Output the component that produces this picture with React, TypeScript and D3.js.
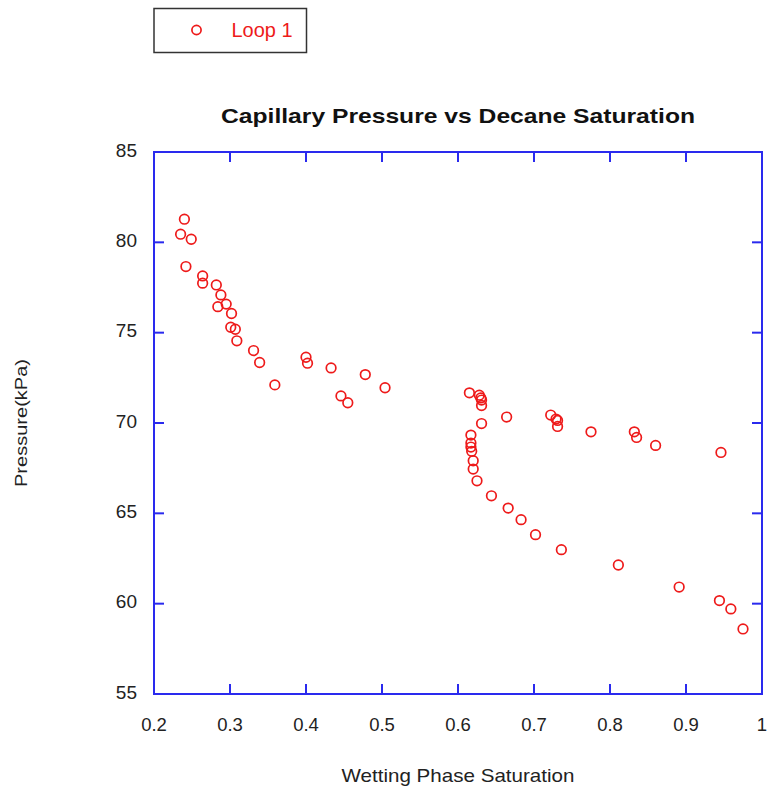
import React from "react";
import * as d3 from "d3";

// Wetting phase saturation (x) and capillary pressure in kPa (y), one loop
const saturation: number[] = [
  0.240, 0.235, 0.249, 0.242, 0.264, 0.264, 0.282, 0.288, 0.284, 0.295,
  0.302, 0.301, 0.307, 0.309, 0.331, 0.339, 0.359, 0.400, 0.402, 0.433,
  0.478, 0.504, 0.446, 0.455, 0.615, 0.628, 0.630, 0.631, 0.631, 0.631,
  0.664, 0.722, 0.729, 0.731, 0.731, 0.775, 0.832, 0.835, 0.860, 0.946,
  0.617, 0.617, 0.617, 0.618, 0.620, 0.620, 0.625, 0.644, 0.666, 0.683,
  0.702, 0.736, 0.811, 0.891, 0.944, 0.959, 0.975,
];
const pressure: number[] = [
  81.28, 80.45, 80.17, 78.66, 78.14, 77.74, 77.64, 77.09, 76.44, 76.58,
  76.06, 75.30, 75.19, 74.55, 74.01, 73.35, 72.11, 73.64, 73.31, 73.05,
  72.68, 71.95, 71.50, 71.12, 71.67, 71.54, 71.39, 71.27, 70.97, 69.97,
  70.33, 70.44, 70.22, 70.14, 69.81, 69.51, 69.51, 69.20, 68.76, 68.37,
  69.33, 68.89, 68.67, 68.43, 67.91, 67.45, 66.80, 65.97, 65.29, 64.65,
  63.82, 62.99, 62.14, 60.92, 60.17, 59.71, 58.60,
];

const xTicks: number[] = [0.2, 0.3, 0.4, 0.5, 0.6, 0.7, 0.8, 0.9, 1];
const yTicks: number[] = [55, 60, 65, 70, 75, 80, 85];

const seriesName = "Loop 1";
const title = "Capillary Pressure vs Decane Saturation";
const xLabel = "Wetting Phase Saturation";
const yLabel = "Pressure(kPa)";

const W = 767;
const H = 789;
const plot = { left: 154, right: 762, top: 152, bottom: 694 };
const AXIS = "#2a2aee";
const MARK = "#ee1a1a";
const FONT = "'Liberation Sans', Arial, sans-serif";
const TICK = 10;

export default function App() {
  const x = d3.scaleLinear().domain([0.2, 1]).range([plot.left, plot.right]);
  const y = d3.scaleLinear().domain([55, 85]).range([plot.bottom, plot.top]);
  const fmtX = (v: number) => (v === 1 ? "1" : d3.format(".1f")(v));

  return (
    <svg
      width={W}
      height={H}
      style={{ position: "fixed", left: 0, top: 0, background: "#fff" }}
    >
      <rect width={W} height={H} fill="#fff" />

      {/* legend */}
      <rect x={154} y={8.5} width={152.5} height={44} fill="#fff" stroke="#333" strokeWidth={1.5} />
      <circle cx={196.5} cy={30} r={4.6} fill="none" stroke={MARK} strokeWidth={1.7} />
      <text x={231.5} y={37} fontFamily={FONT} fontSize={19.5} fill={MARK} textLength={61} lengthAdjust="spacingAndGlyphs">
        {seriesName}
      </text>

      {/* title */}
      <text
        x={(plot.left + plot.right) / 2}
        y={123}
        textAnchor="middle"
        fontFamily={FONT}
        fontWeight="bold"
        fontSize={21}
        fill="#111"
        textLength={474}
        lengthAdjust="spacingAndGlyphs"
      >
        {title}
      </text>

      {/* frame and inward ticks on all sides */}
      <rect
        x={plot.left}
        y={plot.top}
        width={plot.right - plot.left}
        height={plot.bottom - plot.top}
        fill="none"
        stroke={AXIS}
        strokeWidth={2}
      />
      {xTicks.map((t) => (
        <g key={"xt" + t}>
          <line x1={x(t)} x2={x(t)} y1={plot.bottom} y2={plot.bottom - TICK} stroke={AXIS} strokeWidth={2} />
          <line x1={x(t)} x2={x(t)} y1={plot.top} y2={plot.top + TICK} stroke={AXIS} strokeWidth={2} />
          <text
            x={x(t)}
            y={730.5}
            textAnchor="middle"
            fontFamily={FONT}
            fontSize={18.5}
            fill="#222"
          >
            {fmtX(t)}
          </text>
        </g>
      ))}
      {yTicks.map((t) => (
        <g key={"yt" + t}>
          <line x1={plot.left} x2={plot.left + TICK} y1={y(t)} y2={y(t)} stroke={AXIS} strokeWidth={2} />
          <line x1={plot.right} x2={plot.right - TICK} y1={y(t)} y2={y(t)} stroke={AXIS} strokeWidth={2} />
          <text
            x={137}
            y={y(t) + 4.5}
            textAnchor="end"
            fontFamily={FONT}
            fontSize={19}
            fill="#222"
          >
            {t}
          </text>
        </g>
      ))}

      {/* axis titles */}
      <text
        x={(plot.left + plot.right) / 2}
        y={782}
        textAnchor="middle"
        fontFamily={FONT}
        fontSize={19}
        fill="#222"
        textLength={233}
        lengthAdjust="spacingAndGlyphs"
      >
        {xLabel}
      </text>
      <text
        transform={`translate(27,${(plot.top + plot.bottom) / 2}) rotate(-90)`}
        textAnchor="middle"
        fontFamily={FONT}
        fontSize={16.5}
        fill="#222"
        textLength={128}
        lengthAdjust="spacingAndGlyphs"
      >
        {yLabel}
      </text>

      {/* data points */}
      {saturation.map((s, i) => (
        <circle
          key={i}
          cx={x(s)}
          cy={y(pressure[i])}
          r={4.8}
          fill="none"
          stroke={MARK}
          strokeWidth={1.7}
        />
      ))}
    </svg>
  );
}
